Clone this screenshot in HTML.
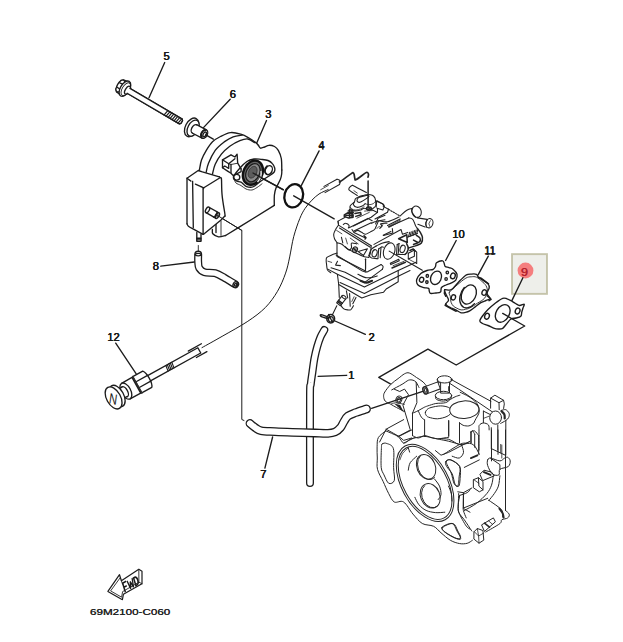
<!DOCTYPE html>
<html><head><meta charset="utf-8"><title>69M2100-C060</title>
<style>
html,body{margin:0;padding:0;background:#fff;}
body{width:623px;height:642px;overflow:hidden;font-family:"Liberation Sans",sans-serif;}
svg{display:block;}
.l{fill:none;stroke:#1c1c1c;stroke-width:1.35;stroke-linecap:round;stroke-linejoin:round;}
.lt{fill:none;stroke:#222;stroke-width:0.9;stroke-linecap:round;stroke-linejoin:round;}
.lw{fill:#fff;stroke:#1c1c1c;stroke-width:1.35;stroke-linecap:round;stroke-linejoin:round;}
.lk{fill:none;stroke:#111;stroke-width:2.1;stroke-linecap:round;stroke-linejoin:round;}
.ho{fill:none;stroke:#1c1c1c;stroke-linecap:round;stroke-linejoin:round;}
.hi{fill:none;stroke:#fff;stroke-linecap:round;stroke-linejoin:round;}
.hd .l,.hd .lw{stroke-width:1.0;stroke:#262626;}
.hd .lt{stroke-width:0.8;}
.cb .l,.cb .lw{stroke-width:1.08;stroke:#222;}
.cb .lt{stroke-width:0.8;}
.t{font-family:"Liberation Sans",sans-serif;font-weight:normal;fill:#1a1a1a;text-anchor:middle;}
</style></head><body>
<svg width="623" height="642" viewBox="0 0 623 642">
<rect width="623" height="642" fill="#ffffff"/>
<path class="l" d="M328.1,189.6C326.6,190.3 321.7,192.2 319,194C316.3,195.8 314.2,197.8 311.9,200.2C309.6,202.6 307,205.4 305,208.5C303,211.6 301.7,213.8 299.8,218.5C297.9,223.2 295.4,230.3 293.7,236.7C292,243.1 291,250.8 289.7,256.9C288.4,263 287.6,267.4 285.6,273.1C283.6,278.8 280.9,285.6 277.5,291.3C274.1,297 270.4,302.4 265.4,307.5C260.3,312.6 254.3,317 247.2,321.7C240.1,326.4 230.4,331.6 222.9,335.9C215.4,340.2 205.5,345.7 202,347.6" style="stroke-width:1"/>
<path class="l" d="M218.5,216.2L241.8,230.4L241.8,419.5L244,420.5" style="stroke-width:1"/>
<path class="l" d="M253,173.5L283.3,189.6" />
<path class="l" d="M293.7,195.8L334.2,218.8" />
<path class="l" d="M502.7,313.4L524.7,326L456.2,365L427.9,349.1L378.8,377.4L390.3,383.8" />
<path class="l" d="M371.6,408.3L426.5,390.1" />
<g transform="translate(123.9,88.1) rotate(30.4)">
<path class="lw" d="M-6.5,-5 L-4.5,-7 L0,-7.4 L0,7.4 L-4.5,7 L-6.5,5 Z"/>
<ellipse class="lw" cx="-4.2" cy="0" rx="3" ry="6.6"/>
<path class="l" d="M-6.2,-2.4 L-2,-2.8 M-6.2,2.6 L-2,3"/>
<ellipse class="lw" cx="1.2" cy="0" rx="4.6" ry="8.5"/>
<ellipse class="l" cx="2.2" cy="0" rx="3.6" ry="7.2" style="stroke-width:0.9"/>
<path class="lw" d="M4,-2.8 L66,-2.8 L67,-1.6 L67,1.6 L66,2.8 L4,2.8 Z"/>
<ellipse class="lw" cx="4.2" cy="0" rx="2.2" ry="4.4"/>
<path class="lw" d="M4.5,-2.8 L66,-2.8 L67,-1.6 L67,1.6 L66,2.8 L4.5,2.8" style="stroke:none"/>
<path class="l" d="M5.4,-2.8 L66,-2.8 L67,-1.6 L67,1.6 L66,2.8 L5.4,2.8"/>
<path class="l" d="M49.3,-2.8 L48.3,2.8" style="stroke-width:1.2"/>
<path class="l" d="M51.6,-2.8 L50.6,2.8" style="stroke-width:1.2"/>
<path class="l" d="M53.9,-2.8 L52.9,2.8" style="stroke-width:1.2"/>
<path class="l" d="M56.2,-2.8 L55.2,2.8" style="stroke-width:1.2"/>
<path class="l" d="M58.5,-2.8 L57.5,2.8" style="stroke-width:1.2"/>
<path class="l" d="M60.8,-2.8 L59.8,2.8" style="stroke-width:1.2"/>
<path class="l" d="M63.1,-2.8 L62.1,2.8" style="stroke-width:1.2"/>
<path class="l" d="M65.4,-2.8 L64.4,2.8" style="stroke-width:1.2"/>
</g>
<g transform="translate(191.6,127.4) rotate(27.5)">
<ellipse class="lw" cx="0" cy="0" rx="6.2" ry="10"/>
<ellipse class="lw" cx="1.7" cy="0" rx="5.2" ry="8.7"/>
<path class="lw" d="M3.4,-4.7 L14.2,-4.7 L14.2,4.7 L3.4,4.7 Z" style="stroke:none"/>
<path class="l" d="M3.2,-4.7 L14.2,-4.7 M3.6,4.7 L14.2,4.7"/>
<path class="l" d="M3.4,-4.7 A3 4.7 0 0 0 3.4,4.7" />
<ellipse class="lw" cx="14.2" cy="0" rx="3.1" ry="4.7"/>
<path class="l" d="M13.6,-3.9 A2.6 4 0 0 0 13.6,3.9" style="stroke-width:1.7"/>
<ellipse class="l" cx="14.8" cy="0.2" rx="1.4" ry="2.6"/>
</g>
<path class="l" d="M205.8,134.8L213.3,139.2" />
<path class="l" d="M199.3,170.5C199.7,168.8 200.3,163.3 201.5,160C202.7,156.7 204.5,153.4 206.3,150.4C208.1,147.4 210.1,144.1 212.5,141.8C214.9,139.5 217.5,138 220.5,136.5C223.5,135 227.2,133 230.6,132.6C234,132.2 237.7,133.3 240.8,134.2C243.9,135.1 246.5,136.6 249,138C251.5,139.4 254.4,141.6 256,142.8C257.6,144.1 258.1,145.1 258.5,145.5" />
<path class="l" d="M258.5,145.5C258.8,145.9 259.5,147.9 260.5,148.2C261.5,148.4 263.1,147.5 264.5,147C265.9,146.5 267.3,145.4 269,145.3C270.7,145.2 272.9,145.7 274.5,146.5C276.1,147.3 277.2,148.4 278.3,150.4C279.4,152.4 280.7,155.2 281.3,158.5C281.9,161.8 281.7,168.1 281.8,170" />
<path class="l" d="M281.8,170C281.8,170.8 281.9,172.9 281.6,174.5C281.4,176.1 281.2,177.3 280.3,179.6C279.4,181.9 277,185.5 276,188.1C275,190.7 274.7,192.1 274.4,195C274.1,197.9 274.3,203.7 274.3,205.4" />
<path class="l" d="M274.3,205.4L238.8,227.4L225.6,235.5" />
<path class="l" d="M225.6,235.5C224.4,235.7 220.6,237.1 218.5,236.8C216.4,236.5 213.8,235 212.8,233.8C211.8,232.6 212.5,230.2 212.4,229.5" />
<path class="l" d="M206.2,172.2C206.6,170.7 207,166.8 208.5,163.2C210,159.5 212.6,153.9 215.2,150.3C217.8,146.8 221.2,144.2 224.2,141.9C227.2,139.7 230.2,137.9 233.2,136.8C236.2,135.7 240.7,135.4 242.2,135.1" />
<path class="l" d="M212.4,174.4C212.9,172.7 213.7,167.7 215.2,164.3C216.7,160.9 219,157.2 221.4,154.2C223.8,151.2 226.7,148.6 229.8,146.3C232.9,144.1 236.9,141.9 239.9,140.7C242.9,139.5 245.4,138.7 247.8,139C250.2,139.3 253.5,142 254.6,142.6" />
<path class="l" d="M216,224.5L216,232.5" />
<path class="lt" d="M221,221L221,235.5" />
<path d="M187,178.2L198.2,170.5L202.4,171.9L219.3,176.8L221.4,178.9L222.1,195.1L224.9,214L224.9,216.1L204.5,233.6L203.1,234.3L188.4,225.9L187,223.8 Z" fill="#fff" stroke="none"/>
<path class="l" d="M203.1,234.3C201.6,233.5 196.5,230.8 194,229.4C191.6,228.1 189.6,227.1 188.4,226.2C187.2,225.3 187.2,224.2 187,223.8" />
<path class="l" d="M187,223.8L187,178.2L198.2,170.5L202.4,171.9L219.3,176.8" />
<path class="l" d="M219.3,176.8C219.6,177 220.6,177.5 221,178C221.3,178.4 221.3,176.8 221.5,179.6C221.7,182.5 221.5,189.3 222.1,195.1C222.6,200.8 224.4,210.5 224.9,214C225.3,217.5 224.9,215.8 224.9,216.1" />
<path class="l" d="M224.9,216.1L220.7,220.3L204.5,233.6L203.1,234.3" />
<path class="l" d="M192.6,181.3L193.3,227.6" />
<path class="l" d="M187,178.2L190.9,181" />
<path class="l" d="M195.4,184.1L201,186.6" />
<path class="lt" d="M188.7,179.9L190.1,181" />
<path class="l" d="M201,186.6L203.8,187.8L220,177.7" />
<path class="l" d="M203.1,188.8L203.1,234.1" />
<path class="l" d="M203.8,187.8L203.1,188.8" />
<g transform="translate(207.5,209.9) rotate(30)">
<path class="lw" d="M0,-3.1 L11.3,-3.1 L11.3,3.1 L0,3.1 Z"/>
<ellipse class="lw" cx="0" cy="0" rx="1.7" ry="3.1"/>
<ellipse class="lw" cx="11.3" cy="0" rx="1.7" ry="3.1" style="stroke-width:1.5"/>
<path class="l" d="M8.6,-3.1 A1.7 3.1 0 0 1 8.6,3.1"/>
<ellipse cx="11.5" cy="0" rx="0.8" ry="1.6" fill="#333"/>
</g>
<path class="l" d="M218.8,216.3L241.8,230.4" style="stroke-width:1"/>
<path class="l" d="M196.8,232.5L196.8,241.3L201,241.3L201,234.5" />
<path class="l" d="M196.8,238.2L201,238.2" />
<path class="l" d="M196.8,239.9L201,239.9" />
<path class="lt" d="M198.3,245.5L198.3,251.8" />
<path class="l" d="M233.7,176.5C234.3,174.3 237.8,170.5 240,168C242.2,165.5 244.6,163 246.9,161.5C249.2,160 251.7,159.4 254,159C256.4,158.6 258.7,159.1 261,159.3C263.3,159.6 266.1,159.8 268,160.5C269.9,161.2 271.3,162.3 272.4,163.6C273.5,164.8 274.4,166.6 274.7,168C275,169.4 275.1,170.7 274.2,172C273.2,173.3 271.2,174.5 269,176C266.8,177.5 263.2,179.5 261,181C258.8,182.5 257.5,184 256,185C254.5,186 253.6,187 251.9,187.2C250.2,187.4 247.8,187.1 246,186.3C244.2,185.5 242.6,183.1 241,182.2C239.4,181.3 237.7,181.9 236.5,181C235.3,180.1 233.1,178.7 233.7,176.5Z" />
<path class="lt" d="M234.5,179.5C234.8,180.1 234.9,182 236,183C237.1,184 239.3,184.5 241,185.5C242.7,186.5 244.2,188.2 246,189C247.8,189.8 250.1,190.2 251.9,190C253.7,189.8 255.3,188.5 257,187.5C258.7,186.5 261.2,184.4 262,183.8" />
<ellipse class="lk" cx="252.9" cy="172.7" rx="9.4" ry="12.6" transform="rotate(25 252.9 172.7)" style="fill:#666;stroke-width:2.4"/>
<ellipse class="l" cx="252.9" cy="172.7" rx="6.6" ry="9.6" transform="rotate(25 252.9 172.7)" style="fill:#8a8a8a;stroke-width:1.3"/>
<ellipse class="l" cx="252.6" cy="172.2" rx="4" ry="6.2" transform="rotate(25 252.6 172.2)" style="fill:#5c5c5c;stroke:#333;stroke-width:0.8;stroke-dasharray:1.2,0.8"/>
<path d="M257.5,182 A7 10 25 0 0 261,171" fill="none" stroke="#e8e8e8" stroke-width="1.4"/>
<ellipse class="l" cx="268.7" cy="170.2" rx="3.4" ry="4.7" transform="rotate(25 268.7 170.2)" />
<path class="l" d="M266.6,174 A3.4 4.7 25 0 1 267,166.2" style="stroke-width:1.8"/>
<path class="l" d="M253,173L283.3,189.8" />
<path class="lw" d="M241.1,168.8L237.7,163.2L237.1,154.2L234.9,157L231,154.8L222.5,159.8L228.7,163.8L234.9,158.7" />
<path class="l" d="M222.5,159.8L222.5,167.7L224.8,166L228.7,168.3L228.7,163.8" />
<path class="l" d="M222.5,167.7L227.6,171.1L231,173.3L233.2,175.6L241.1,171.6L241.1,168.8" />
<path class="l" d="M231,164.5L231,172.5" />
<path class="lt" d="M228.7,163.8L231,164.5L237.7,163.2" />
<ellipse class="l" cx="236.6" cy="177.2" rx="3.2" ry="2.9" transform="rotate(0 236.6 177.2)" />
<g class="cb">
<path class="l" d="M324,186.4L337,179.2" />
<path class="l" d="M325,192.6L339.5,184.5" />
<path class="l" d="M337,179.2C337.4,179.3 338.9,179.6 339.5,180.1C340,180.6 340.2,181.3 340.2,182C340.2,182.8 339.6,184 339.5,184.5" />
<path class="lt" d="M320.7,189.7L328.4,185.4" />
<path class="l" d="M339.5,182C341.4,180.7 348.8,175.4 351,173.9C353.3,172.3 352.4,172.6 352.9,172.7C353.5,172.8 353.8,173.3 354.1,174.3C354.4,175.3 354.5,177.8 354.9,178.7C355.2,179.6 354.5,180.6 356.3,179.6C358.1,178.7 363.6,174.1 365.5,172.9C367.3,171.7 366.9,172.3 367.4,172.5C367.9,172.7 368.4,173.5 368.5,174.3C368.6,175.1 368.1,176.7 368,177.2" style="stroke-width:1.7"/>
<path class="l" d="M357.3,195.5C356,194.7 351,191.5 349.6,190.4C348.2,189.3 348.9,189.3 348.9,188.8C348.9,188.2 349.2,187.7 349.8,187.1C350.3,186.6 351.3,185.6 352,185.4C352.7,185.2 351.5,184.7 353.9,185.9C356.3,187.1 364.3,191.5 366.4,192.6" />
<path class="lt" d="M353.9,190.7L357.3,193.1" />
<path class="lw" d="M355.4,198.9C356.1,198.1 357,197.5 358.3,197C359.6,196.4 361.6,195.9 363.1,195.5C364.6,195.1 365.9,194.6 367.5,194.6C369,194.5 371,194.8 372.3,195.3C373.5,195.9 374.3,196.9 374.9,197.9C375.4,198.9 375.5,200 375.6,201.3C375.8,202.6 376.2,204.5 375.8,205.6C375.4,206.8 374.2,207.5 373.2,208.2C372.2,209 371.4,210 369.9,210C368.3,210 365.6,208.2 364.1,208.2C362.6,208.2 362.3,209.5 360.7,210C359.1,210.4 356.1,211 354.5,210.9C352.8,210.9 351.3,210.3 350.6,209.5C349.9,208.7 349.8,207.1 350.1,206.1C350.4,205.2 351.8,204.4 352.5,203.7C353.2,203 354,202.6 354.5,201.8C354.9,201 354.8,199.7 355.4,198.9Z" />
<path class="l" d="M357,200.5C357,199.8 357.5,198.4 358.5,197.6C359.5,196.9 361.7,196.7 363.1,196.3C364.6,195.9 366.2,195.3 367.2,195.3C368.1,195.4 369.2,195.8 368.9,196.5C368.6,197.2 366.5,198.5 365.2,199.4C364,200.3 362.3,201.3 361.2,201.8C360.1,202.3 359.2,202.5 358.5,202.3C357.8,202.1 357,201.3 357,200.5Z" />
<path class="l" d="M354.5,201.8C354.3,202.3 353.1,203.8 353.5,204.7C353.9,205.6 355.4,207 356.9,207.3C358.3,207.5 360.8,206.7 362.2,206.1C363.6,205.5 364.7,204.1 365.2,203.7" />
<path class="lt" d="M350.4,207.1C350.7,207.4 351.1,208.7 352,209.2C353,209.7 354.5,210 355.9,210C357.3,209.9 359.3,209.4 360.7,208.8C362.1,208.3 363.5,207 364.1,206.6" />
<path class="lt" d="M365.2,203.7C365.9,203.9 367.6,204.7 368.9,204.7C370.2,204.7 372.1,204.3 373.2,203.7C374.3,203.2 375.1,201.7 375.5,201.3" />
<path class="l" d="M368.1,181.1L368.1,208.2" style="stroke-width:1.5"/>
<ellipse class="l" cx="368.9" cy="208.6" rx="2.4" ry="1.6" transform="rotate(0 368.9 208.6)" style="stroke-width:1.5"/>
<path class="lt" d="M364.6,211.1L372.3,210.6" stroke-dasharray="1.2,1"/>
<path class="l" d="M376.6,201.3L382.4,203.7L384.5,206.1L382.9,210L377.1,208.2" />
<path class="l" d="M376.6,201.3L376.2,207.1" />
<path class="l" d="M344.3,214.8L347.6,212.9L352.9,213.8L353.1,217.2L348.1,217.9L344.3,216.4Z" style="stroke-width:1.5"/>
<path class="l" d="M349.6,209.5L349.6,217.7" style="stroke-width:1.5"/>
<path class="l" d="M352,209.5L352,217.4" style="stroke-width:1.5"/>
<path class="l" d="M348.1,210.9L353.4,210.9" />
<path class="l" d="M347.9,212.4L353.5,212.4" />
<path class="l" d="M345.7,215.3L352.9,215.5" style="stroke-width:1.5"/>
<path class="l" d="M354.9,213.4L360.6,212.4L361.1,214.8L355.8,216.4" style="stroke-width:1.5"/>
<path class="l" d="M345.2,217.2L338,221.1L338.5,223.9" />
<path class="l" d="M369.3,208.5L377.5,212.4L371.2,217.2L353.4,225.9" />
<path class="l" d="M377.5,208.5L377.5,212.4" />
<path class="l" d="M385,215.3L378,218.2L375.6,223.9" />
<path class="lt" d="M356.8,218.2L369.3,212.4" />
<path class="l" d="M376.9,200.6L383.7,204.5L383.2,206.4L388.5,209.3" />
<path class="l" d="M388.5,209.3L400,216" stroke-dasharray="1.5,1.2"/>
<path class="l" d="M388.5,209.3L387.5,212.2L375,218.9" />
<path class="l" d="M371.1,223.2C371.8,223 373.7,222.2 375,221.8C376.3,221.4 376.8,220.8 378.9,220.8C380.9,220.8 384.2,222.4 387.5,221.8C390.9,221.1 397.2,217.8 399.1,217" />
<path class="l" d="M379.8,228.5C380.1,228.1 381.6,226.6 381.7,225.8C381.9,225 379.9,224.2 380.8,223.7C381.7,223.3 386,223.3 387,223.2" />
<path class="l" d="M400,216C401.2,215 404.7,211.5 406.8,210.2C408.9,208.9 411.6,208.6 412.6,208.3" />
<ellipse class="lw" cx="416.6" cy="211.7" rx="4.6" ry="5.8" transform="rotate(-20 416.6 211.7)" />
<path class="l" d="M412.6,208.3C412.4,208.7 411.5,209.7 411.6,210.7C411.7,211.7 412.4,213 413.1,214.1C413.7,215.2 415.1,216.7 415.5,217.2" />
<path class="l" d="M388.5,227.1L408.7,217.9" />
<path class="l" d="M408.7,217.9C409.3,218.1 411.2,218.3 412.1,218.9C413,219.5 413.5,220.7 414,221.8C414.6,222.9 414.9,224.5 415.5,225.6C416,226.8 417.1,228.1 417.4,228.5" />
<path class="l" d="M387.5,225.6L400.2,218.9" />
<path class="lt" d="M389.5,227.2L400.2,221.4" />
<path class="lt" d="M388.5,226.4L400.2,220.2" />
<path class="l" d="M392.3,228.5L392.8,232.9L383.5,235.5" />
<path class="l" d="M383.2,235.3L390.9,231.4" />
<path class="l" d="M374,244.4L401,229.5L402.5,234.3L407.8,232.4" />
<path class="l" d="M398.6,238.7L406.8,234.8L407.3,242.5Z" style="stroke-width:1.5"/>
<path class="l" d="M408.5,236.7L409.7,232.3" style="stroke-width:1.05"/>
<path class="l" d="M410.2,236.1L411.3,231.7" style="stroke-width:1.05"/>
<path class="l" d="M411.8,235.6L413,231.1" style="stroke-width:1.05"/>
<path class="l" d="M413.4,235L414.6,230.6" style="stroke-width:1.05"/>
<path class="l" d="M415.1,234.4L416.2,230" style="stroke-width:1.05"/>
<path class="l" d="M416.7,233.8L417.9,229.4" style="stroke-width:1.05"/>
<path class="l" d="M407.3,237.2L417.4,233.5" />
<path class="l" d="M417.4,217.9L427,219.4" />
<path class="l" d="M417.9,224.2L425.1,227.1" />
<ellipse class="lw" cx="429.4" cy="223.2" rx="3.5" ry="4.7" transform="rotate(15 429.4 223.2)" />
<path class="l" d="M427.5,219.4C427.2,219.9 426,221.5 425.9,222.8C425.7,224 426.4,226.4 426.5,227.1" />
<path class="lt" d="M430.4,220.8C430.2,221.3 429,222.8 428.9,223.7C428.9,224.7 429.9,226.1 430.1,226.6" />
<path class="l" d="M417.4,228.5C417.9,229.2 419.4,230.9 420.3,232.4C421.1,233.8 422.2,235.4 422.4,237.2C422.6,239 422.6,241.5 421.4,243C420.3,244.4 417.7,245 415.5,245.9C413.3,246.7 409.4,247.6 408.2,248" style="stroke-width:1.5"/>
<path class="l" d="M416.4,235.3C417,235.8 419.6,237 420.1,238.2C420.6,239.3 420.4,241 419.3,242C418.2,243.1 414.5,244 413.5,244.4" style="stroke-width:1.5"/>
<path class="l" d="M413.5,240.1L417.9,242.5" style="stroke-width:1.5"/>
<path class="l" d="M338,221.3L338.5,225.1L371.2,245.8" />
<path class="l" d="M339.5,228L370.3,247.3" />
<path class="l" d="M338.5,225.1C338,225.8 336.4,227.9 335.6,229.5C334.8,231 333.8,232.7 333.7,234.3C333.5,235.9 334.1,237.7 334.6,239.1C335.2,240.4 336.6,241.9 337,242.5" />
<path class="lt" d="M336.6,230.4L341.9,233.8" />
<path class="l" d="M343.3,224.6C343.7,224.4 344.7,223 345.7,223.2C346.7,223.3 348.7,224.8 349.1,225.6C349.5,226.4 348.4,227.6 348.3,228" />
<path class="l" d="M349.1,227.7L367.9,218.4L372.2,220.8" />
<path class="l" d="M353.9,230.9L371.2,222.7" />
<path class="l" d="M354.4,232.1C354.9,231.9 356.6,230.4 357.8,230.4C359,230.4 360.3,231.7 361.6,232.3C362.9,233 364,234.3 365.5,234.3C366.9,234.2 368.8,232.6 370.3,231.9C371.7,231.1 373.3,230.5 374.1,229.9C375,229.3 375,228.9 375.3,228.3C375.6,227.7 375.7,227.4 376.1,226.6C376.4,225.7 377,224.2 377.5,223.2C378,222.2 377.7,221.3 378.9,220.8C380.2,220.2 384,220 385,219.8" />
<path class="l" d="M352,229.5L353.9,232.5L365.5,238.1" />
<path class="l" d="M364,235.7C364.3,236 365.8,237.1 365.9,237.6C366.1,238.2 365.1,238.8 365,239.1" style="stroke-width:1.5"/>
<path class="lt" d="M377,228.5C377.3,228.2 378.2,226.8 378.9,226.6C379.7,226.4 380.7,227.7 381.4,227.3C382,227 382.6,225.1 382.8,224.6" />
<path class="l" d="M371.2,245.8C371.1,247 370.9,250.6 370.5,252.6C370.1,254.5 369.1,256.6 368.8,257.4" />
<path class="l" d="M337,242.9L337,256.4L365.5,270.9" />
<path class="l" d="M365.5,259.3L365.5,270.9" />
<path class="l" d="M337,242.9C337.8,243.1 340.2,243.3 341.4,243.9C342.6,244.5 343.3,245.5 344.3,246.3C345.2,247.1 345.7,247.8 347.2,248.7C348.6,249.6 350.2,250.3 352.9,251.6C355.7,252.9 360.9,255.5 363.5,256.4C366.2,257.4 368,257.2 368.8,257.4" />
<path class="l" d="M341.4,237.2L342.8,242.9" />
<path class="lt" d="M345.7,238.1L347.4,243.9" />
<path class="l" d="M345.2,246.8C345.9,247.3 348,249.7 349.1,249.9C350.1,250 351.1,248.9 351.5,247.8C351.9,246.6 350.6,243.8 351.5,243.1C352.4,242.5 355.9,243.8 356.8,243.9" />
<ellipse class="l" cx="354.9" cy="249.7" rx="2.4" ry="3" transform="rotate(30 354.9 249.7)" style="fill:#999"/>
<path class="l" d="M353.4,248.2L356.8,251.6" style="stroke-width:1.4"/>
<path class="l" d="M358.2,251.6L367.4,248.7L363.5,255.5Z" />
<path class="lt" d="M350.2,238.1L358.2,243.9" />
<path class="l" d="M337,253.1C336.2,253.4 333.4,254.3 331.7,255C330.1,255.7 327.9,256.5 326.9,257.4C326,258.3 326.2,259.3 326.2,260.3C326.1,261.2 326.2,261.6 326.4,263.2C326.7,264.8 326.7,268.3 327.4,269.9C328.1,271.5 330.2,272.3 330.8,272.8" />
<path class="l" d="M337.5,261.2L335.6,265.1L340.4,265.6" />
<path class="lt" d="M327.9,261.2L331.7,262.4" />
<path class="l" d="M336.1,255L362.5,271.1L365.4,272.1L368,271.6L381.1,264.6" />
<path class="l" d="M381.1,264.6C381.4,264.9 382.9,265.8 383.1,266.6C383.3,267.3 382.5,268.9 382.3,269.4" />
<path class="l" d="M365.6,258.9L365.6,268.5" />
<path class="l" d="M327.8,269.1L337.4,274.3L364.4,287.1L398.2,270.6L416,262.3" />
<path class="l" d="M331,267.8L345.1,272.3L364.4,282.6L382.3,269.4" />
<path class="l" d="M357.9,274.3C359.2,274.8 363.3,277.1 365.6,277.6C368,278.1 370.1,277.7 372.1,277.5C374,277.2 376.3,276.2 377.2,275.9" />
<path class="l" d="M360.5,280.7C361.5,281 364.4,282.7 366.3,282.7C368.2,282.7 371.1,281 372.1,280.7" style="stroke-width:2"/>
<path class="l" d="M337.4,274.3L338.7,284.5L361.8,298L370.8,294.8L383.6,292.2L386.2,289L398.2,281.7L398.2,270.6" />
<path class="l" d="M340,282.6L364.4,293.5L398.2,276.2L410,270.6" />
<path class="l" d="M338.7,284.5L339.3,297.4" />
<path class="l" d="M346.4,290.9L347.7,298" />
<path class="l" d="M349.6,293.5L350.2,306.3" />
<path class="l" d="M356,297.4L352.8,303.8" />
<path class="lt" d="M354.1,296.7L351.8,301.5" />
<path class="l" d="M340.6,305.1C341.1,305.7 342.6,308.1 343.8,308.9C345,309.7 346.5,309.8 347.7,309.9C348.9,310 349.9,310.3 350.9,309.6C351.8,308.9 353,306.3 353.5,305.7" />
<g transform="translate(341.3,300.7) rotate(-52)">
<path class="lw" d="M-4.5,-2.4 L4.5,-2.4 L4.5,2.4 L-4.5,2.4Z"/><ellipse class="lw" cx="4.5" cy="0" rx="1.3" ry="2.4"/><path class="l" d="M-3,-2.4L-3,2.4M-1.4,-2.4L-1.4,2.4" style="stroke-width:1.4"/>
</g>
<path class="l" d="M336.8,305.7L332.3,314.9" />
<ellipse class="lw" cx="389.2" cy="251.1" rx="5.5" ry="8.4" transform="rotate(18 389.2 251.1)" />
<ellipse class="l" cx="374.6" cy="253.3" rx="2.4" ry="3.7" transform="rotate(18 374.6 253.3)" />
<ellipse class="l" cx="402.6" cy="248.9" rx="2.4" ry="3.8" transform="rotate(18 402.6 248.9)" />
<path class="l" d="M368.9,255.6C369.1,254.9 369.6,252.8 370.1,251.7C370.5,250.5 370.7,249.8 371.7,248.9C372.8,247.9 375.5,246.5 376.2,246" />
<path class="l" d="M378.7,248.9L377.9,258.7" />
<path class="l" d="M378.7,248.9L381.9,246.8L383.5,247.2" />
<path class="l" d="M381,247.7L380.2,257.6" />
<path class="l" d="M397.2,244.6L396.5,254.2" />
<path class="l" d="M397.2,244.6L399.3,243.5" />
<path class="l" d="M398.9,244.1L398.3,253.3" />
<path class="l" d="M406.6,243.8C406.9,244.5 408.2,246.3 408.3,247.7C408.4,249.1 407.7,251.1 407.1,252.2C406.6,253.3 405.3,254.1 404.9,254.5" style="stroke-width:1.5"/>
<path class="l" d="M368.9,255.6C369.4,256 370.2,257.5 371.7,258.1C373.2,258.6 376.9,258.6 377.9,258.7" />
<path class="l" d="M396.5,254.2C397.2,254.3 399.6,254.4 401,254.5C402.4,254.5 404.2,254.5 404.9,254.5" />
<path class="l" d="M376.2,246C377.2,245.6 379.7,244 381.9,243.2C384,242.5 387.9,241.8 389.2,241.6" />
<path class="l" d="M389.2,251.1L422.3,270.2" />
<path class="l" d="M390.3,263.2 L398.7,259.3 L399.3,260.7 L390.8,264.6 Z"/>
<path class="l" d="M392,268L405.4,262.3" style="stroke-width:1.5"/>
<path class="lt" d="M393.1,265.7L403.8,261.4" />
<path class="l" d="M408.3,253.3L414.4,250L416.7,252.2L416.7,263.5" />
<path class="l" d="M408.3,253.3L408.3,259L414.4,256.2L414.4,250" />
<path class="l" d="M409.9,250.5L413.3,248.9L415,251.3" style="stroke-width:1.5"/>
<path class="lt" d="M408.3,259L416.7,263.5" />
</g>
<g class="hd">
<path class="l" d="M404.5,411.5C403.2,410.9 398.8,408.7 396.5,407.5C394.2,406.3 392.7,405.4 390.9,404.3C389,403.3 386.5,402.5 385.2,401.1C384,399.8 383.7,397.8 383.6,396.3C383.6,394.8 383.6,394 384.8,392C386,390 388.6,386.5 390.9,384.3C393.1,382 395.8,380.4 398.1,378.6C400.4,376.9 402.6,374.8 404.5,373.8C406.4,372.9 407.3,372.4 409.3,373C411.3,373.6 414.3,376 416.5,377.5C418.8,379 421.2,380.3 423,381.9C424.7,383.4 426.3,385.9 427,386.7" />
<path class="l" d="M391.7,389.9C393.4,388.9 399.3,385.9 402.1,384.3C404.9,382.7 406.7,380.9 408.5,380.2C410.3,379.6 411.7,379.9 413,380.2C414.3,380.6 415.2,381.1 416.2,382.3C417.2,383.5 418.5,386.6 419,387.5" />
<path class="l" d="M394.1,389.1L399.7,391.5L404.5,389.1L408.5,394.7L402.9,405.1L410.1,429.2" />
<path class="l" d="M416.2,382.3L416.9,402.7L412.5,413.2" />
<ellipse class="l" cx="398.9" cy="399.5" rx="2.9" ry="3.6" transform="rotate(20 398.9 399.5)" />
<ellipse class="l" cx="398.9" cy="399.8" rx="1.6" ry="2.2" transform="rotate(20 398.9 399.8)" />
<path d="M394.1,403.5 L404,412.4 L400.2,405.1 Z" fill="#222"/>
<path class="lt" d="M391.7,403.5L395.7,402.7L404.5,404.3" />
<g transform="translate(425.4,390.4) rotate(-20)">
<path class="lw" d="M0,-3.7 L14.5,-3.7 L14.5,3.7 L0,3.7Z"/><ellipse class="lw" cx="0" cy="0" rx="2.3" ry="3.7" style="stroke-width:1.5"/><ellipse class="l" cx="0.2" cy="0" rx="1.1" ry="2"/>
</g>
<path class="lw" d="M440.6,381.9 L440.6,393.1 L449.5,393.1 L449.5,381.9 Z"/>
<ellipse class="l" cx="443.5" cy="395.5" rx="8.2" ry="4.2" transform="rotate(0 443.5 395.5)" />
<path class="l" d="M435.5,396.3C435.7,396.8 435.3,398.7 436.6,399.5C438,400.3 441.2,401.2 443.5,401.1C445.8,401 448.9,399.8 450.3,399C451.6,398.2 451.3,396.8 451.5,396.3" />
<ellipse class="lw" cx="444.6" cy="379.4" rx="7.3" ry="3.6" transform="rotate(0 444.6 379.4)" />
<path class="l" d="M437.4,379.4C437.5,379.8 437.2,381.3 437.7,381.9C438.3,382.4 440.1,382.8 440.6,383" />
<path class="l" d="M451.9,379.1C451.8,379.4 451.9,380.5 451.5,381.1C451.1,381.6 449.8,382.4 449.5,382.7" />
<path class="l" d="M450.8,379.3L490.9,401.3" />
<path class="l" d="M449.8,383.4L458.8,389.2L493.8,412.9" />
<path class="l" d="M448.7,386.6L448.7,390.9" />
<path class="l" d="M412.5,413.2C413.5,412.8 416.3,411.7 418.2,410.7C420,409.8 422.2,408.3 423.8,407.5C425.4,406.7 425.8,406.6 427.8,405.9C429.8,405.3 432.9,404.1 435.8,403.5C438.8,403 443,403.4 445.4,402.7C447.8,402.1 448.7,400.5 450.3,399.5C451.9,398.5 453.5,397.5 455.1,396.8C456.7,396.1 459.1,395.4 459.9,395.2" />
<path class="l" d="M460.2,392.3C461.7,393.1 466.3,395 468.9,396.7C471.6,398.4 474.4,400.5 476.1,402.5C477.8,404.4 478.6,406.4 479,408.2C479.5,410.1 479.2,412 478.7,413.7C478.2,415.4 476.9,416.9 476.1,418.4C475.3,419.8 474.3,422 474,422.7" />
<path class="l" d="M425.4,412.4C425.6,411.5 426,410.4 427,409.6C427.9,408.8 428.7,408.2 431,407.5C433.3,406.9 437.7,405.9 440.6,405.9C443.6,405.9 446.8,406.6 448.7,407.5C450.5,408.5 452.1,410.1 451.9,411.5C451.6,413 449.5,415.2 447,416.4C444.6,417.6 440.5,418.6 437.4,418.8C434.3,418.9 430.5,417.8 428.6,417.2C426.7,416.5 426.4,415.6 425.9,414.8C425.3,414 425.2,413.2 425.4,412.4Z" />
<ellipse class="lw" cx="464.3" cy="409.7" rx="14.6" ry="8.8" transform="rotate(-3 464.3 409.7)" />
<path class="l" d="M412.5,413.2L412.5,435.6" />
<path class="l" d="M424.6,419.9L424.6,435.6" />
<path class="l" d="M448.7,420.4L448.7,436.4" />
<path class="l" d="M448.7,421.2L448.7,435.7" />
<path class="l" d="M459.5,422.7L459.5,442.9" />
<path class="l" d="M412.5,435.6C413.5,436 416.1,438 418.2,438C420.2,438 422.4,435.7 424.6,435.6C426.7,435.5 428.9,437 431,437.6C433.1,438.1 435.3,438.8 437.4,438.8C439.6,438.9 442,438.3 443.8,438C445.7,437.8 447.8,437.4 448.7,437.2" />
<path class="l" d="M440,438.6C441.4,438.7 446.3,438.7 448.7,439.3C451.1,439.9 452.8,441.4 454.5,442.2C456.1,443 457.1,444.1 458.8,444.4C460.5,444.7 462.9,444.3 464.6,444.1C466.3,443.8 468.2,443.1 468.9,442.9" />
<path class="l" d="M418.2,410.7C418.7,411.8 420.3,415.6 421.4,417.2C422.4,418.7 424,419.4 424.6,419.9" />
<path class="l" d="M459.5,422.7C460.1,423.1 461.6,424.8 463.1,425.3C464.7,425.8 467.2,426.2 468.9,425.9C470.6,425.6 472.8,423.8 473.5,423.4" />
<path class="l" d="M403.7,419.6L386.1,429.2L379.6,442" />
<path class="l" d="M386.1,429.2L393.3,433.2L398.9,436.4L411.7,430" />
<path class="l" d="M398.9,436.4L403.7,440.4L411.7,438" />
<path class="l" d="M490.6,408.2L490.6,398.1L494.9,395.2L503.6,400.3L504.3,403.9L503.6,408.5" />
<path class="l" d="M490.6,398.1L499,402.7L503.6,400.3" />
<path class="l" d="M499,402.7L499.2,409.7" />
<ellipse class="lw" cx="495.6" cy="417.6" rx="5.9" ry="6.6" transform="rotate(0 495.6 417.6)" />
<path class="l" d="M501.4,410.4C502.1,410.3 504.5,409.2 505.8,409.7C507,410.2 508.6,412 509.1,413.3C509.6,414.6 509.2,416.4 508.6,417.6C508.1,418.8 507.1,419.6 505.8,420.5C504.4,421.5 501.5,422.9 500.7,423.4" />
<path class="l" d="M501.4,411.1C501.9,411.7 503.8,413.1 504.3,414.3C504.9,415.5 504.7,417.7 504.7,418.4" style="stroke-width:2.2"/>
<path class="l" d="M483.4,411.1L483.4,422.7" />
<path class="l" d="M483.4,411.1L490.6,414.7" />
<path class="lt" d="M483.4,418.4L489.1,416.2" />
<path class="l" d="M479,450.1C479,446.8 479,434.1 479,429.9C479.1,425.8 478.6,426.4 479.3,425.3C480,424.1 481.8,423 483.4,423C484.9,422.9 487.4,423.7 488.4,424.9C489.4,426 489,429.1 489.1,429.9" />
<path class="l" d="M471.1,432.1L471.1,442.9" />
<path class="l" d="M474.7,434.2L474.7,447.3" />
<path class="l" d="M471.1,432.1C471.3,431.8 471.9,430.3 472.5,430.6C473.1,431 474.3,433.6 474.7,434.2" />
<path class="l" d="M491.3,427.7L491.3,448.7" />
<path class="l" d="M497.8,424.9L497.8,450.1" />
<path class="l" d="M505.8,420.5L505.8,455.1" />
<path class="lt" d="M500.7,444.4L500.7,453" />
<path class="l" d="M385.9,430.9C384.6,432 379.9,434.8 378.4,437.5C376.9,440.1 377.3,443.4 377.1,446.8C376.9,450.2 377.2,454.3 377.3,458C377.4,461.8 376.5,465.4 377.5,469.3C378.4,473.1 381.2,477.4 383.1,481.4C385,485.5 386.8,490.1 388.7,493.6C390.6,497 391.8,500.6 394.3,502C396.8,503.4 400.5,499.9 403.6,502C406.8,504 409.9,510.5 413,514.1C416.1,517.7 418.9,521.4 422.3,523.5C425.8,525.5 430.4,524.7 433.6,526.3C436.7,527.8 438.2,530.5 441,532.8C443.8,535.1 447.3,538.5 450.4,540.3C453.5,542.1 456.9,543.1 459.7,543.6C462.5,544.1 465.1,543.8 467.2,543.3C469.3,542.7 471.6,540.8 472.4,540.3" />
<path class="l" d="M382.1,444C383.1,443.1 385,442.7 386.8,443.5C388.7,444.2 392.2,444.7 393.4,448.7C394.5,452.7 393.4,462.1 393.6,467.4C393.7,472.7 395.1,477.8 394.3,480.5C393.5,483.1 390.4,484.2 388.7,483.3C387,482.3 385.3,477.5 384,474.9C382.8,472.2 381.7,471.7 381.2,467.4C380.8,463 381.2,452.6 381.4,448.7C381.6,444.8 381.2,444.9 382.1,444Z" />
<path class="l" d="M385.9,430.9C387.9,431.9 395.1,434.5 398,436.5C401,438.6 401.6,442.6 403.6,443.1C405.7,443.6 408,440.3 410.2,439.3C412.4,438.4 414.1,437.9 416.7,437.5C419.4,437 422.3,436.2 426.1,436.5C429.8,436.9 435.4,438.6 439.2,439.3C442.9,440.1 444.8,440.3 448.5,441.2C452.2,442.1 459.4,444.3 461.6,445" />
<path class="l" d="M398,436.5L410.2,430" />
<path class="lt" d="M403.6,443.1L414.9,437.5" />
<path class="l" d="M435.4,450.6L441,455.2L448.5,452.4L470,441.2" />
<ellipse class="l" cx="425.1" cy="482.9" rx="42" ry="23.5" transform="rotate(61.4 425.1 482.9)" />
<ellipse class="l" cx="425.1" cy="482.9" rx="39.8" ry="21.6" transform="rotate(61.4 425.1 482.9)" />
<path class="l" d="M408.3,470.2C408.6,468.9 408.8,465 410.2,462.7C411.6,460.4 415.6,457.3 416.7,456.2" />
<path class="l" d="M414.9,497.3C415.5,498.5 417.1,502.6 419,504.8C420.8,506.9 423.3,509.1 426.1,510.4C428.8,511.7 432.3,512.3 435.4,512.6C438.5,512.9 443.2,512.3 444.8,512.2" />
<path class="l" d="M448.5,486.1C449,487.3 450.7,491.1 451.3,493.6C451.9,496 451.8,499.8 451.9,501" />
<path class="lt" d="M399.9,459.9C400.4,458.8 401.3,455.4 402.7,453.4C404.1,451.3 407.4,448.7 408.3,447.8" />
<path class="l" d="M408.3,447.8L409.6,452.1" />
<ellipse class="l" cx="426.1" cy="466.8" rx="9.2" ry="12.8" transform="rotate(-22 426.1 466.8)" />
<path class="l" d="M420.1,456.2 A7.8 11.2 -22 0 0 434.5,477.7"/>
<ellipse class="l" cx="430.2" cy="495.8" rx="9.6" ry="12.6" transform="rotate(-22 430.2 495.8)" />
<path class="l" d="M424.6,485.7 A8 11 -22 0 0 437.3,506.3"/>
<path class="l" d="M434.5,479C435.3,480.2 438.4,483.5 439.5,486.1C440.6,488.7 441.2,492.2 441,494.5C440.8,496.7 438.7,498.7 438.2,499.5" />
<path class="l" d="M445.7,461.8C446.3,460.7 448,459.1 450.4,459.9C452.7,460.7 458.1,463.3 459.7,466.4C461.3,469.6 460.2,475.3 460.1,478.6C459.9,481.9 459.6,485.1 458.8,486.1C457.9,487 456.1,486.2 455,484.2C454,482.2 453.6,476.9 452.2,473.9C450.8,471 447.7,468.5 446.6,466.4C445.5,464.4 445.1,462.9 445.7,461.8Z" />
<path class="l" d="M442,527.2C443.2,525.8 449.8,522.8 452.2,523.5C454.7,524.1 455.5,528.4 456.9,530.9C458.3,533.4 460.7,537.1 460.7,538.4C460.7,539.7 459.6,539.9 456.9,538.8C454.3,537.7 447.3,533.8 444.8,531.9C442.3,529.9 440.7,528.6 442,527.2Z" />
<path class="l" d="M461.6,445C461.9,446.2 463.8,450.2 463.5,452.4C463.1,454.6 461.2,457.4 459.3,458C457.5,458.7 453.4,456.5 452.2,456.2" />
<path class="l" d="M459.7,495.4C459.5,497 458.4,502 458.2,504.8C458.1,507.6 457.9,509.4 458.8,512.2C459.7,515 462.1,519.1 463.5,521.6C464.9,524.1 466.1,526 467.2,527.2C468.3,528.4 469.5,528.8 470,529.1" />
<path class="l" d="M459.7,495.4C461,495 465.5,493.6 467.2,492.6C468.9,491.7 469.5,490.3 470,489.8" />
<path class="l" d="M463.5,493.6L463.5,508.5L470,512.2" />
<path class="l" d="M491.5,430L491.5,460.9" />
<path class="l" d="M498,430L498,454.3" />
<path class="l" d="M505.5,430L505.5,510.5" />
<path class="l" d="M478.7,435.6L478.7,454.3" />
<path class="l" d="M470.9,431.9L470.9,443.1" />
<path class="l" d="M470.9,431.9C471.5,431.7 473.3,430.3 474.6,430.9C475.9,431.6 478,434.8 478.7,435.6" />
<path class="lt" d="M501.8,445L501.8,458.1" />
<path class="l" d="M487.7,459.9C488.2,458.7 488.5,457.9 490.5,458.1C492.6,458.2 497.5,460.9 499.9,460.9C502.2,460.9 503.2,458.7 504.6,458.1C505.9,457.5 506.8,456.9 507.7,457.3C508.7,457.8 510.1,459.3 510.2,460.9C510.3,462.4 510,465.1 508.3,466.5C506.6,467.9 501.4,467.9 499.9,469.3C498.3,470.7 500.2,474.1 498.9,474.9C497.7,475.7 494.3,475.5 492.4,474C490.5,472.4 488.5,467.9 487.7,465.6C486.9,463.2 487.2,461.2 487.7,459.9Z" />
<path class="l" d="M490.5,458.1L499.9,464.6L499.9,469.3" />
<path class="l" d="M491.5,448.7L505.5,455.3" />
<path class="l" d="M480.2,474L484,470.2L491.5,472.1L494.3,475.8L483,480.5Z" />
<path class="l" d="M484,472.1L490.5,474.9" style="stroke-width:2"/>
<path class="l" d="M473.7,479.6L478.4,477.7L483,481.5L483,489.9L479.3,491.8L473.7,488Z" />
<path class="l" d="M478.4,477.7L478.9,486.1L483,489.9" />
<path class="lt" d="M473.7,479.6L478.9,483.3" />
<path class="l" d="M493.3,475.8C493,477.4 492.6,482.2 491.5,485.2C490.4,488.2 489.3,490.6 486.8,493.6C484.3,496.6 480.2,500.5 476.5,503.4C472.7,506.2 466.4,509.3 464.3,510.5" />
<path class="l" d="M499.9,475.8C499.6,477.6 499.3,483.2 498.4,486.1C497.4,489.1 495.9,491.2 494.3,493.6C492.6,496.1 489.6,499.5 488.7,500.7" />
<path class="l" d="M464.3,507.7L487.7,498.3" />
<path class="l" d="M505.5,510.5C506.1,511.1 508.9,513 509.2,514.2C509.6,515.5 509,517 507.7,517.9C506.5,518.9 503.1,518.9 501.8,519.8C500.4,520.8 502.5,521.5 499.9,523.6C497.2,525.6 488.2,530.6 485.8,532" />
<path class="l" d="M488.7,500.2C490.2,501.3 495.8,504.9 498,506.7C500.3,508.5 501.3,509.1 502.1,510.8C502.9,512.6 502.6,516 502.7,517" />
<path class="l" d="M499.5,508.6C500,509.4 502,511.8 502.7,513.3C503.4,514.8 503.5,516.9 503.6,517.6" style="stroke-width:2"/>
<path class="l" d="M481.9,524.7L493.4,517.9L495.4,521.8L484.8,531.2Z" />
<path class="l" d="M484.5,523.2L489.5,527.2" style="stroke-width:1.6"/>
<path class="lt" d="M488.5,520.8L492.5,524.3" />
<path class="l" d="M474.2,531.6L477.3,528.5L482.9,530.5L483.8,540.1L479,543.2L474.2,539.3Z" />
<path class="lt" d="M477.3,528.5L478.6,536L479,543.2" />
<path class="lt" d="M474.2,531.6L478.6,536L483.8,533" />
<path class="l" d="M442.8,527.3C444.2,525.9 450.6,522.9 453.1,523.6C455.6,524.2 456.5,528.7 457.8,531C459,533.4 461.1,536.4 460.6,537.6C460.1,538.8 457.6,538.9 455,538C452.3,537 446.7,533.8 444.7,532C442.7,530.2 441.4,528.7 442.8,527.3Z" />
<path class="l" d="M446.5,460.9C447.2,460.1 449,459 451.2,459.9C453.4,460.9 458.3,463.7 459.6,466.5C461,469.3 459.4,473.5 459.1,476.8C458.8,480.1 458.6,485 457.8,486.1C456.9,487.2 455.1,485.5 454,483.3C452.9,481.1 452.4,476.2 451.2,473C450.1,469.9 447.9,466.6 447.1,464.6C446.3,462.6 445.9,461.7 446.5,460.9Z" />
<path class="l" d="M458.7,493.6C458.7,495.5 458.3,501.7 458.3,504.9C458.3,508 457.7,509.8 458.7,512.3C459.7,514.8 462.8,517.6 464.3,519.8C465.9,522 466.8,523.6 468.1,525.4C469.3,527.3 471.2,530.1 471.8,531" />
<path class="l" d="M463.4,492.7C463.4,494.7 463.2,501.9 463.2,504.9C463.2,507.8 462.9,508.3 463.4,510.5C463.9,512.6 465.7,516.7 466.2,517.9" />
<path class="l" d="M457.8,491.8L463.4,492.7L471.8,488" />
<path class="l" d="M464.3,467.4L479.3,459.9" />
<path class="l" d="M443.7,454.3C446.2,452.8 455.1,446.8 458.7,445C462.3,443.1 462.8,443.1 465.3,443.1C467.8,443.1 471.3,443.1 473.7,445C476,446.8 478.4,452.8 479.3,454.3" />
<path class="l" d="M470.9,458.1L477.4,455.3" style="stroke-width:1.8"/>
</g>
<ellipse class="lk" cx="293.7" cy="195.8" rx="9.2" ry="11.8" transform="rotate(15 293.7 195.8)" style="stroke-width:2.3"/>
<path class="ho" d="M198.2,254.6C198.2,255.8 198,259.8 198.2,262C198.4,264.2 198.1,266.3 199.2,268C200.2,269.7 201.8,271.4 204.5,272.3C207.2,273.2 211.8,272.3 215.1,273.2C218.3,274.1 220.7,275.6 224,277.5C227.3,279.4 233.3,283.2 235.2,284.3" stroke-width="8"/>
<path class="hi" d="M198.2,254.6C198.2,255.8 198,259.8 198.2,262C198.4,264.2 198.1,266.3 199.2,268C200.2,269.7 201.8,271.4 204.5,272.3C207.2,273.2 211.8,272.3 215.1,273.2C218.3,274.1 220.7,275.6 224,277.5C227.3,279.4 233.3,283.2 235.2,284.3" stroke-width="5.4"/>
<ellipse class="l" cx="198.2" cy="254.6" rx="2.9" ry="1.3" transform="rotate(0 198.2 254.6)" fill="#444"/>
<ellipse class="l" cx="235.4" cy="284.5" rx="2.2" ry="2.9" transform="rotate(30 235.4 284.5)" fill="#fff"/>
<ellipse class="l" cx="235.6" cy="284.6" rx="1" ry="1.6" transform="rotate(30 235.6 284.6)" />
<path class="ho" d="M324.3,330C323.7,331.2 321.7,334.2 320.5,337C319.3,339.8 318.2,343.2 317.2,346.7C316.2,350.2 315.3,353.9 314.5,358C313.7,362.1 313.1,367.3 312.5,371.6C311.9,375.9 311.2,379.9 310.8,384C310.4,388.1 310.1,379.5 310,396C309.9,412.5 310,468.5 310,483" stroke-width="8"/>
<path class="hi" d="M324.3,330C323.7,331.2 321.7,334.2 320.5,337C319.3,339.8 318.2,343.2 317.2,346.7C316.2,350.2 315.3,353.9 314.5,358C313.7,362.1 313.1,367.3 312.5,371.6C311.9,375.9 311.2,379.9 310.8,384C310.4,388.1 310.1,379.5 310,396C309.9,412.5 310,468.5 310,483" stroke-width="5.4"/>
<path class="ho" d="M250,423.5C250.8,424.2 253.2,426.3 255,427.5C256.9,428.7 257.8,430 261.1,430.7C264.4,431.4 269.8,431.3 275,431.6C280.2,431.9 285.6,432.1 292.3,432.3C299,432.5 309.1,432.8 315,433C320.9,433.2 324.7,433.5 328,433.3C331.3,433.1 332.9,432.9 335,432C337.1,431.1 339,429.4 340.5,427.6C342,425.9 342.8,423.4 344,421.5C345.2,419.6 346,417.5 348,416C350,414.5 352.9,413.7 356,412.5C359.1,411.3 364.8,409.6 366.5,409" stroke-width="8.8"/>
<path class="hi" d="M250,423.5C250.8,424.2 253.2,426.3 255,427.5C256.9,428.7 257.8,430 261.1,430.7C264.4,431.4 269.8,431.3 275,431.6C280.2,431.9 285.6,432.1 292.3,432.3C299,432.5 309.1,432.8 315,433C320.9,433.2 324.7,433.5 328,433.3C331.3,433.1 332.9,432.9 335,432C337.1,431.1 339,429.4 340.5,427.6C342,425.9 342.8,423.4 344,421.5C345.2,419.6 346,417.5 348,416C350,414.5 352.9,413.7 356,412.5C359.1,411.3 364.8,409.6 366.5,409" stroke-width="6.2"/>
<ellipse class="l" cx="330.7" cy="318.7" rx="3.9" ry="4.2" transform="rotate(0 330.7 318.7)" style="stroke-width:1.5"/>
<ellipse class="l" cx="330.9" cy="319.3" rx="2.4" ry="2.7" transform="rotate(0 330.9 319.3)" style="stroke-width:1.2"/>
<path class="l" d="M329.5,317.6C328.8,317.3 326.4,316.3 325,315.8C323.6,315.3 321.8,314.6 321,314.6C320.2,314.6 320.2,315.2 320.4,315.6C320.6,316 320.8,316.4 322,316.9C323.2,317.4 326.8,318.3 327.8,318.6" style="stroke-width:1.4"/>
<path class="l" d="M328.6,314.5L332.6,322.5" style="stroke-width:1.3"/>
<g transform="translate(113.6,397.9) rotate(-29)">
<path class="lw" d="M39,-3 L98,-3 L98,3 L39,3"/>
<path class="l" d="M61.4,-3 L60.6,3" style="stroke-width:1.1"/>
<path class="l" d="M63.1,-3 L62.3,3" style="stroke-width:1.1"/>
<path class="l" d="M64.8,-3 L64,3" style="stroke-width:1.1"/>
<path class="l" d="M66.5,-3 L65.7,3" style="stroke-width:1.1"/>
<path class="l" d="M68.2,-3 L67.4,3" style="stroke-width:1.1"/>
<path class="l" d="M88,-4.8 L103,-4.8 M92,4.8 L104,4.8"/>
<path class="lw" d="M27,-9.3 L38.5,-9.3 C41.5,-6 41.5,6 38.5,9.3 L27,9.3 Z"/>
<path class="l" d="M27,-3.2 L40.6,-3.2 M27,3.4 L40.6,3.4"/>
<path class="l" d="M27,-9.3 L27,9.3" style="stroke-width:1.7;stroke:#333"/>
<path class="lw" d="M14,-8.8 L26,-9 L26,9 L14,8.8" />
<ellipse class="lw" cx="14" cy="0" rx="4.8" ry="8.8"/>
<path class="lw" d="M5,-5 L12.6,-5.4 L12.6,5.4 L5,5 Z" style="stroke:none"/>
<path class="l" d="M6,-5 L12.4,-5.4 M7,5 L12.4,5.4"/>
<path class="l" d="M12.6,-5.6 A3 5.6 0 0 1 12.6,5.6"/>
<ellipse class="lw" cx="4" cy="0" rx="6.6" ry="11.6"/>
<ellipse class="lw" cx="0" cy="0" rx="7" ry="12"/>
</g>
<text transform="translate(113.3,399) rotate(14) skewX(6)" font-family="Liberation Sans" font-size="14.5" fill="#222" text-anchor="middle" y="5.1" textLength="8.2" lengthAdjust="spacingAndGlyphs">N</text>
<path class="l" d="M416.7,279.5C417.3,277.8 419.1,275 420.8,273.5C422.5,272 424.9,271.2 427,270.5C429.1,269.8 431.8,270 433.2,269.3C434.6,268.6 434.9,267.6 435.5,266.5C436.1,265.4 435.3,263.8 436.5,262.8C437.7,261.9 441.3,260.7 442.6,260.8C443.9,260.9 443.8,262.6 444.2,263.5C444.6,264.4 444.4,265.7 445.2,266.4C446,267.1 447.6,267.1 449,267.6C450.4,268.1 452,268.3 453.3,269.4C454.6,270.5 456.6,272.4 457,274.2C457.4,276 456.8,278.7 455.8,280.2C454.8,281.7 452.6,282.4 451,283.2C449.4,284 447.6,284.3 446,285C444.4,285.7 442.4,286.3 441.5,287.5C440.6,288.7 441.4,291.1 440.5,292C439.6,292.9 437.7,292.8 436,293C434.3,293.2 431.6,293.8 430.5,293.4C429.4,293 429.5,291.6 429.2,290.8C428.9,290 429.5,288.9 428.6,288.4C427.7,287.9 425.5,288 424,287.6C422.5,287.2 420.8,286.9 419.6,286.2C418.4,285.5 417.5,284.6 417,283.5C416.5,282.4 416.1,281.2 416.7,279.5Z" />
<ellipse class="l" cx="436" cy="277.8" rx="5.2" ry="7" transform="rotate(25 436 277.8)" />
<ellipse class="l" cx="421.6" cy="279.7" rx="2.1" ry="2.5" transform="rotate(20 421.6 279.7)" />
<ellipse class="l" cx="452.9" cy="275.9" rx="2.3" ry="2.9" transform="rotate(20 452.9 275.9)" />
<ellipse class="l" cx="427.3" cy="275.9" rx="1.2" ry="1.4" transform="rotate(0 427.3 275.9)" />
<ellipse class="l" cx="426.9" cy="282.1" rx="1.2" ry="1.4" transform="rotate(0 426.9 282.1)" />
<ellipse class="l" cx="447.3" cy="272.5" rx="1.2" ry="1.4" transform="rotate(0 447.3 272.5)" />
<ellipse class="l" cx="446.1" cy="279" rx="1.2" ry="1.4" transform="rotate(0 446.1 279)" />
<path class="l" d="M444.7,289.7C445.7,289.1 449.2,290.9 451.4,289.7C453.7,288.5 455.8,284.8 458.2,282.4C460.6,280 463.7,276.6 465.9,275.2C468.1,273.9 469.5,274.2 471.3,274.1C473,273.9 475.3,273.8 476.5,274.3C477.7,274.8 477.3,276.1 478.4,277.2C479.5,278.2 481.6,279.3 483.2,280.4C484.8,281.6 487,282.7 488,283.9C489,285.1 489.4,286.1 489.2,287.8C489,289.4 486.9,291.8 487.1,293.5C487.2,295.3 490.3,297.2 490.2,298.4C490,299.5 487.6,299.8 486.1,300.5C484.6,301.1 483.1,301.4 481.3,302.4C479.5,303.4 477.4,305.2 475.5,306.6C473.6,308.1 471.4,309.9 469.7,310.9C468.1,311.8 466.9,312.1 465.5,312.4C464,312.7 462.6,313.2 461.1,312.8C459.5,312.4 457.8,310.9 456.2,310.1C454.6,309.3 452.9,308.7 451.4,308C450,307.3 448.5,306.7 447.6,306.1C446.6,305.4 445.7,304.9 445.8,303.9C446,303 448.3,301.5 448.5,300.3C448.7,299 447.5,297.6 447,296.4C446.5,295.2 445.8,294.3 445.5,293.2C445.1,292 443.7,290.3 444.7,289.7Z" />
<path class="lt" d="M449.5,292C450.7,290.1 454.5,287.2 457.2,284.9C459.9,282.6 463.5,279.5 465.9,278.1C468.2,276.8 469.5,276.9 471.3,276.8C473,276.6 474.7,276.4 476.5,277.2C478.2,277.9 480.1,279.8 481.7,281.2C483.3,282.6 485.2,284.1 486.1,285.8C487,287.6 487.6,289.5 487.3,291.6C487,293.7 486,296.4 484.4,298.4C482.7,300.3 479.9,301.6 477.4,303.2C475,304.8 471.7,307 469.7,308C467.7,309 466.9,309 465.5,309.3C464,309.7 462.5,310.1 461.1,309.9C459.6,309.7 458.1,308.8 456.8,308.2C455.5,307.5 454.3,307.1 453.4,306.1C452.4,305.1 451.6,303.8 451,302.2C450.5,300.6 450.5,298.1 450.3,296.4C450,294.7 448.3,293.9 449.5,292Z" />
<ellipse class="l" cx="468.8" cy="294.5" rx="7" ry="10" transform="rotate(25 468.8 294.5)" />
<path class="l" d="M464.3,287.4 A6 9 25 0 0 474.5,303.6"/>
<ellipse class="l" cx="453.4" cy="297.4" rx="2.1" ry="2.6" transform="rotate(20 453.4 297.4)" />
<ellipse class="l" cx="484.2" cy="292.6" rx="2.2" ry="2.8" transform="rotate(20 484.2 292.6)" />
<path class="l" d="M478.4,277.2L481.7,278.5L488.6,283.9" />
<path class="l" d="M487.1,295.8L491.1,299.3L489,300.7" style="stroke-width:1.5"/>
<path class="l" d="M445.8,303.9L445.1,305.5L451.4,308.9L456.2,311.3" style="stroke-width:1.4"/>
<path class="l" d="M444.7,289.7L444.3,293.5L445.8,296.4" />
<path class="l" d="M479.8,321C479.8,319.8 481.1,317.9 482.5,316C483.9,314.1 485.8,311.7 488,309.5C490.2,307.3 493.1,304.9 495.5,303C497.9,301.1 500.8,299 502.7,298.3C504.6,297.6 505.6,298.4 507,298.8C508.4,299.2 509.6,299.9 511,300.7C512.4,301.5 514.1,302.7 515.5,303.5C516.9,304.3 518.1,305.4 519.6,305.5C521.1,305.6 523.6,303.8 524.2,304.2C524.8,304.6 523.4,306.7 523,308C522.6,309.3 522.2,310.6 521.8,312C521.4,313.4 521.8,315.3 520.8,316.3C519.8,317.3 517.6,317.6 516,318C514.4,318.4 512.6,318 511,319C509.4,320 507.9,322.4 506.5,324C505.1,325.6 504,327.6 502.7,328.4C501.4,329.2 499.9,329 498.5,329C497.1,329 496.1,329 494.3,328.4C492.6,327.8 490,326.3 488,325.5C486,324.7 483.9,324.2 482.5,323.5C481.1,322.8 479.8,322.2 479.8,321Z" />
<ellipse class="l" cx="502.7" cy="313.4" rx="6.6" ry="9.4" transform="rotate(30 502.7 313.4)" />
<ellipse class="l" cx="487" cy="316.3" rx="2.3" ry="3" transform="rotate(20 487 316.3)" />
<ellipse class="l" cx="517.6" cy="311" rx="2.3" ry="3" transform="rotate(20 517.6 311)" />
<rect x="512.05" y="254.15" width="34.9" height="39.7" fill="#eeefea" stroke="#c5c4aa" stroke-width="1.9"/>
<circle cx="525.5" cy="270.5" r="7.9" fill="#f57e7e"/>
<text x="524.35" y="275.8" font-family="Liberation Sans" font-size="10.8" fill="#b3202c" text-anchor="middle" textLength="7" lengthAdjust="spacingAndGlyphs">9</text>
<text x="524.85" y="275.8" font-family="Liberation Sans" font-size="10.8" fill="#b3202c" text-anchor="middle" textLength="7" lengthAdjust="spacingAndGlyphs">9</text>
<path class="l" d="M522.9,277.8L512,300.4" />
<path class="l" d="M164.7,62.5L149,97.8" />
<path class="l" d="M230.2,99.3L203.7,127.4" />
<path class="l" d="M266.5,120.5L256.5,143.5" />
<path class="l" d="M319.1,150.9L301.4,185.4" />
<path class="l" d="M456.2,240.5L445.6,260.5" />
<path class="l" d="M488.3,256.1L478.1,274.9" />
<path class="l" d="M160.8,266.2L194.3,262" />
<path class="l" d="M365.4,334.3L335,321" />
<path class="l" d="M115.7,343.1L136.2,373.9" />
<path class="l" d="M346.7,375.3L318.1,376.3" />
<path class="l" d="M264.9,468.1L272.6,437" />
<text class="t" x="166.38" y="60.2" font-size="11.2" >5</text>
<text class="t" x="166.82" y="60.2" font-size="11.2" >5</text>
<text class="t" x="166.6" y="60.35" font-size="11.2" >5</text>
<text class="t" x="232.68" y="97.9" font-size="11.2" >6</text>
<text class="t" x="233.12" y="97.9" font-size="11.2" >6</text>
<text class="t" x="232.9" y="98.05" font-size="11.2" >6</text>
<text class="t" x="268.18" y="117.8" font-size="11.2" >3</text>
<text class="t" x="268.62" y="117.8" font-size="11.2" >3</text>
<text class="t" x="268.4" y="117.95" font-size="11.2" >3</text>
<text class="t" x="321.28" y="149.4" font-size="11.2" >4</text>
<text class="t" x="321.72" y="149.4" font-size="11.2" >4</text>
<text class="t" x="321.5" y="149.55" font-size="11.2" >4</text>
<text class="t" x="458.38" y="237.8" font-size="11.2" >10</text>
<text class="t" x="458.82" y="237.8" font-size="11.2" >10</text>
<text class="t" x="458.6" y="237.95" font-size="11.2" >10</text>
<text class="t" x="489.78" y="254.4" font-size="11.2" >11</text>
<text class="t" x="490.22" y="254.4" font-size="11.2" >11</text>
<text class="t" x="490" y="254.55" font-size="11.2" >11</text>
<text class="t" x="155.58" y="270" font-size="11.2" >8</text>
<text class="t" x="156.02" y="270" font-size="11.2" >8</text>
<text class="t" x="155.8" y="270.15" font-size="11.2" >8</text>
<text class="t" x="371.38" y="341.2" font-size="11.2" >2</text>
<text class="t" x="371.82" y="341.2" font-size="11.2" >2</text>
<text class="t" x="371.6" y="341.35" font-size="11.2" >2</text>
<text class="t" x="113.38" y="341.3" font-size="11.2" >12</text>
<text class="t" x="113.82" y="341.3" font-size="11.2" >12</text>
<text class="t" x="113.6" y="341.45" font-size="11.2" >12</text>
<text class="t" x="351.18" y="379.1" font-size="11.2" >1</text>
<text class="t" x="351.62" y="379.1" font-size="11.2" >1</text>
<text class="t" x="351.4" y="379.25" font-size="11.2" >1</text>
<text class="t" x="263.08" y="478.1" font-size="11.2" >7</text>
<text class="t" x="263.52" y="478.1" font-size="11.2" >7</text>
<text class="t" x="263.3" y="478.25" font-size="11.2" >7</text>
<path class="l" d="M107.9,591.4L119.5,574.7L121.4,580.8L138.8,569.3L142,571.2L142,583.7L123.4,594.3L122.4,599.7Z" style="stroke-width:1.2"/>
<path class="lt" d="M120.3,577.6L110.6,590.9L121.6,597.2L122.6,591.6L138.9,582.2L138.8,569.3" />
<path class="lt" d="M138.9,582.2L142,583.7" />
<path class="lt" d="M121.4,580.8L122.6,584.2" />
<g transform="translate(130.9,583.9) rotate(-29) skewX(-12)" fill="none" stroke="#1a1a1a" stroke-width="1.55" stroke-linejoin="miter" stroke-linecap="butt">
<path d="M-7.9,4.6 L-7.9,-4.6 L-3.9,-4.6 M-7.9,-0.4 L-4.6,-0.4"/>
<path d="M-2.9,-4.6 L-1.6,4.2 L0,-2.4 L1.6,4.2 L2.9,-4.6" stroke-width="1.35"/>
<path d="M4.4,-4.6 L4.4,4.6 M3.7,3.9 L5.6,3.9 C8.6,3.9 8.6,-3.9 5.6,-3.9 L3.7,-3.9"/>
</g>
<text x="89.8" y="615.2" font-family="Liberation Sans" font-size="9.4" fill="#222" textLength="80.3" lengthAdjust="spacingAndGlyphs">69M2100-C060</text>
<text x="90.2" y="615.2" font-family="Liberation Sans" font-size="9.4" fill="#222" textLength="80.3" lengthAdjust="spacingAndGlyphs">69M2100-C060</text>
</svg>
</body></html>
